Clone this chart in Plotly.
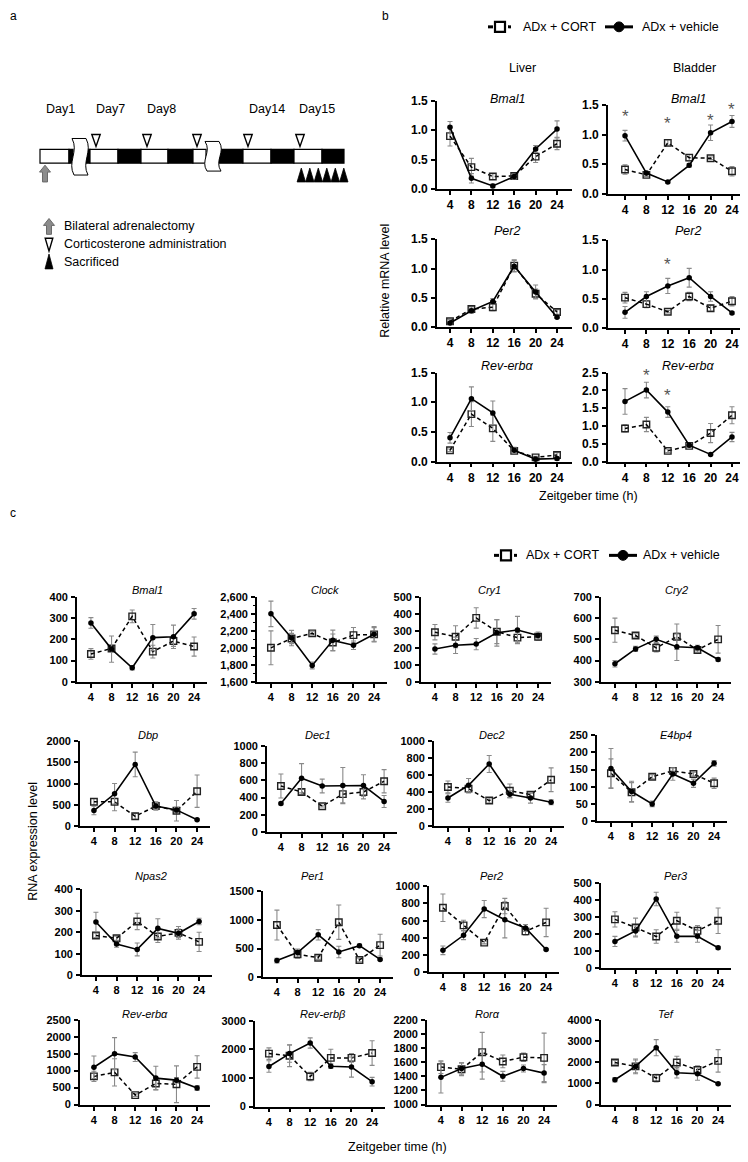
import plotly.graph_objects as go

W, H = 748, 1162          # page / reference size in px
OX, OY = 8, 8             # default page margin of the browser body
FW, FH = W - OX, H - OY   # figure size so that it fills the window exactly
FONT = "Liberation Sans, Arial, Helvetica, sans-serif"
zt = [4, 8, 12, 16, 20, 24]

# ---------------- Panel b: relative mRNA level ----------------
b_liver_bmal1_veh = [1.05, 0.18, 0.05, 0.21, 0.68, 1.02]
b_liver_bmal1_veh_sem = [0.10, 0.08, 0.03, 0.04, 0.06, 0.14]
b_liver_bmal1_cort = [0.90, 0.37, 0.21, 0.22, 0.55, 0.77]
b_liver_bmal1_cort_sem = [0.17, 0.15, 0.05, 0.04, 0.10, 0.10]

b_bladder_bmal1_veh = [0.98, 0.35, 0.20, 0.48, 1.03, 1.22]
b_bladder_bmal1_veh_sem = [0.09, 0.03, 0.02, 0.03, 0.13, 0.10]
b_bladder_bmal1_cort = [0.41, 0.32, 0.86, 0.61, 0.60, 0.38]
b_bladder_bmal1_cort_sem = [0.08, 0.03, 0.05, 0.05, 0.02, 0.08]
b_bladder_bmal1_star_zt = [4, 12, 20, 24]
b_bladder_bmal1_star_y = [1.35, 1.23, 1.28, 1.48]

b_liver_per2_veh = [0.07, 0.28, 0.44, 1.04, 0.60, 0.17]
b_liver_per2_veh_sem = [0.02, 0.04, 0.05, 0.10, 0.12, 0.02]
b_liver_per2_cort = [0.10, 0.31, 0.34, 1.05, 0.57, 0.26]
b_liver_per2_cort_sem = [0.03, 0.04, 0.06, 0.10, 0.08, 0.04]

b_bladder_per2_veh = [0.27, 0.54, 0.72, 0.86, 0.54, 0.26]
b_bladder_per2_veh_sem = [0.10, 0.08, 0.13, 0.16, 0.08, 0.02]
b_bladder_per2_cort = [0.52, 0.41, 0.28, 0.54, 0.34, 0.46]
b_bladder_per2_cort_sem = [0.09, 0.06, 0.02, 0.07, 0.05, 0.08]
b_bladder_per2_star_zt = [12]
b_bladder_per2_star_y = [1.14]

b_liver_reva_veh = [0.40, 1.06, 0.82, 0.19, 0.04, 0.05]
b_liver_reva_veh_sem = [0.09, 0.20, 0.20, 0.05, 0.03, 0.03]
b_liver_reva_cort = [0.19, 0.80, 0.56, 0.18, 0.07, 0.11]
b_liver_reva_cort_sem = [0.02, 0.21, 0.22, 0.04, 0.02, 0.04]

b_bladder_reva_veh = [1.69, 2.01, 1.39, 0.46, 0.20, 0.69]
b_bladder_reva_veh_sem = [0.36, 0.22, 0.15, 0.04, 0.02, 0.13]
b_bladder_reva_cort = [0.93, 1.04, 0.30, 0.44, 0.80, 1.30]
b_bladder_reva_cort_sem = [0.10, 0.20, 0.05, 0.04, 0.27, 0.24]
b_bladder_reva_star_zt = [8, 12]
b_bladder_reva_star_y = [2.50, 1.94]

# ---------------- Panel c: RNA expression level ----------------
c_bmal1_veh = [277, 154, 66, 208, 212, 320]
c_bmal1_veh_sem = [25, 62, 10, 62, 55, 25]
c_bmal1_cort = [131, 157, 308, 142, 192, 166]
c_bmal1_cort_sem = [25, 10, 30, 30, 25, 45]

c_clock_veh = [2400, 2115, 1792, 2088, 2031, 2160]
c_clock_veh_sem = [150, 90, 40, 120, 50, 90]
c_clock_cort = [2000, 2110, 2170, 2062, 2150, 2158]
c_clock_cort_sem = [200, 60, 20, 100, 90, 80]

c_cry1_veh = [193, 215, 222, 288, 305, 273]
c_cry1_veh_sem = [30, 48, 33, 78, 80, 20]
c_cry1_cort = [292, 265, 376, 295, 260, 265]
c_cry1_cort_sem = [45, 65, 60, 70, 30, 20]

c_cry2_veh = [385, 455, 500, 465, 460, 405]
c_cry2_veh_sem = [15, 12, 15, 65, 12, 8]
c_cry2_cort = [543, 518, 460, 512, 450, 500]
c_cry2_cort_sem = [57, 8, 20, 60, 10, 65]

c_dbp_veh = [365, 760, 1450, 470, 380, 150]
c_dbp_veh_sem = [100, 240, 290, 80, 60, 20]
c_dbp_cort = [570, 570, 230, 470, 360, 820]
c_dbp_cort_sem = [80, 210, 70, 100, 240, 380]

c_dec1_veh = [330, 625, 535, 540, 540, 355]
c_dec1_veh_sem = [15, 170, 80, 210, 125, 70]
c_dec1_cort = [535, 465, 300, 440, 465, 590]
c_dec1_cort_sem = [140, 30, 10, 100, 80, 135]

c_dec2_veh = [330, 480, 730, 375, 330, 280]
c_dec2_veh_sem = [50, 80, 100, 40, 60, 30]
c_dec2_cort = [460, 440, 300, 415, 370, 545]
c_dec2_cort_sem = [70, 50, 30, 80, 20, 140]

c_e4bp4_veh = [153, 86, 50, 137, 110, 168]
c_e4bp4_veh_sem = [58, 30, 8, 18, 12, 8]
c_e4bp4_cort = [139, 84, 129, 146, 137, 110]
c_e4bp4_cort_sem = [42, 28, 6, 10, 5, 15]

c_npas2_veh = [248, 145, 120, 218, 195, 250]
c_npas2_veh_sem = [45, 15, 30, 45, 20, 15]
c_npas2_cort = [185, 172, 250, 180, 197, 155]
c_npas2_cort_sem = [10, 10, 38, 28, 30, 45]

c_per1_veh = [290, 430, 740, 440, 550, 310]
c_per1_veh_sem = [40, 60, 90, 100, 30, 20]
c_per1_cort = [910, 400, 340, 960, 300, 560]
c_per1_cort_sem = [260, 70, 30, 300, 30, 190]

c_per2_veh = [255, 430, 735, 610, 515, 265]
c_per2_veh_sem = [50, 50, 100, 210, 40, 10]
c_per2_cort = [750, 545, 345, 770, 475, 580]
c_per2_cort_sem = [160, 60, 15, 90, 40, 165]

c_per3_veh = [158, 220, 408, 188, 188, 121]
c_per3_veh_sem = [30, 30, 40, 35, 35, 8]
c_per3_cort = [288, 240, 187, 280, 221, 280]
c_per3_cort_sem = [45, 55, 40, 50, 30, 75]

c_reva_veh = [1100, 1500, 1400, 780, 720, 490]
c_reva_veh_sem = [330, 470, 130, 350, 80, 70]
c_reva_cort = [830, 950, 280, 620, 600, 1110]
c_reva_cort_sem = [150, 400, 40, 180, 540, 330]

c_revb_veh = [1400, 1850, 2220, 1410, 1380, 870]
c_revb_veh_sem = [200, 300, 180, 80, 350, 150]
c_revb_cort = [1850, 1775, 1050, 1700, 1700, 1870]
c_revb_cort_sem = [200, 380, 150, 300, 150, 430]

c_rora_veh = [1385, 1510, 1570, 1400, 1510, 1445]
c_rora_veh_sem = [220, 80, 210, 70, 50, 120]
c_rora_cort = [1530, 1500, 1740, 1610, 1670, 1660]
c_rora_cort_sem = [90, 90, 280, 90, 60, 350]

c_tef_veh = [1170, 1800, 2680, 1500, 1450, 980]
c_tef_veh_sem = [100, 350, 380, 250, 300, 40]
c_tef_cort = [1980, 1800, 1250, 1980, 1630, 2060]
c_tef_cort_sem = [100, 300, 180, 300, 200, 530]


def X(px):
    return (px - OX) / FW


def Y(py):
    return 1 - (py - OY) / FH


def P(x, y):
    return f"{X(x):.5f},{Y(y):.5f}"


b_specs = [
    ("Bmal1", b_liver_bmal1_veh, b_liver_bmal1_veh_sem, b_liver_bmal1_cort, b_liver_bmal1_cort_sem,
     [0, 1.5], 0.5, ".1f", 437, 95, 184, 135, [1.57, 26.8], 507, 93, None),
    ("Bmal1", b_bladder_bmal1_veh, b_bladder_bmal1_veh_sem, b_bladder_bmal1_cort, b_bladder_bmal1_cort_sem,
     [0, 1.5], 0.5, ".1f", 608, 99, 189, 135, [0.82, 26.06], 688, 93,
     (b_bladder_bmal1_star_zt, b_bladder_bmal1_star_y)),
    ("Per2", b_liver_per2_veh, b_liver_per2_veh_sem, b_liver_per2_cort, b_liver_per2_cort_sem,
     [0, 1.5], 0.5, ".1f", 437, 235, 324, 135, [1.57, 26.8], 507, 227, None),
    ("Per2", b_bladder_per2_veh, b_bladder_per2_veh_sem, b_bladder_per2_cort, b_bladder_per2_cort_sem,
     [0, 1.5], 0.5, ".1f", 608, 236, 325, 135, [0.82, 26.06], 688, 227,
     (b_bladder_per2_star_zt, b_bladder_per2_star_y)),
    ("Rev-erbα", b_liver_reva_veh, b_liver_reva_veh_sem, b_liver_reva_cort, b_liver_reva_cort_sem,
     [0, 1.5], 0.5, ".1f", 437, 370, 460, 135, [1.57, 26.8], 507, 363, None),
    ("Rev-erbα", b_bladder_reva_veh, b_bladder_reva_veh_sem, b_bladder_reva_cort, b_bladder_reva_cort_sem,
     [0, 2.5], 0.5, ".1f", 608, 370, 460, 135, [0.82, 26.06], 688, 363,
     (b_bladder_reva_star_zt, b_bladder_reva_star_y)),
]

CXR = [1.3, 26.5]
c_specs = [
    ("Bmal1", c_bmal1_veh, c_bmal1_veh_sem, c_bmal1_cort, c_bmal1_cort_sem, [0, 400], 100, "d", 77, 597, 683, 147, 590),
    ("Clock", c_clock_veh, c_clock_veh_sem, c_clock_cort, c_clock_cort_sem, [1600, 2600], 200, ",d", 257, 597, 683, 325, 590),
    ("Cry1", c_cry1_veh, c_cry1_veh_sem, c_cry1_cort, c_cry1_cort_sem, [0, 500], 100, "d", 421, 597, 683, 489, 590),
    ("Cry2", c_cry2_veh, c_cry2_veh_sem, c_cry2_cort, c_cry2_cort_sem, [300, 700], 100, "d", 601, 597, 683, 676, 590),
    ("Dbp", c_dbp_veh, c_dbp_veh_sem, c_dbp_cort, c_dbp_cort_sem, [0, 2000], 500, "d", 80, 743, 829, 148, 737),
    ("Dec1", c_dec1_veh, c_dec1_veh_sem, c_dec1_cort, c_dec1_cort_sem, [0, 1000], 200, "d", 267, 748, 835, 318, 737),
    ("Dec2", c_dec2_veh, c_dec2_veh_sem, c_dec2_cort, c_dec2_cort_sem, [0, 1000], 200, "d", 434, 743, 829, 492, 737),
    ("E4bp4", c_e4bp4_veh, c_e4bp4_veh_sem, c_e4bp4_cort, c_e4bp4_cort_sem, [0, 250], 50, "d", 597, 737, 824, 676, 737),
    ("Npas2", c_npas2_veh, c_npas2_veh_sem, c_npas2_cort, c_npas2_cort_sem, [0, 400], 100, "d", 82, 893, 980, 151, 880),
    ("Per1", c_per1_veh, c_per1_veh_sem, c_per1_cort, c_per1_cort_sem, [0, 1500], 500, "d", 263, 895, 982, 312, 880),
    ("Per2", c_per2_veh, c_per2_veh_sem, c_per2_cort, c_per2_cort_sem, [0, 1000], 200, "d", 429, 890, 977, 491, 880),
    ("Per3", c_per3_veh, c_per3_veh_sem, c_per3_cort, c_per3_cort_sem, [0, 500], 100, "d", 601, 887, 973, 676, 880),
    ("Rev-erbα", c_reva_veh, c_reva_veh_sem, c_reva_cort, c_reva_cort_sem, [0, 2500], 500, "d", 80, 1025, 1111, 145, 1019),
    ("Rev-erbβ", c_revb_veh, c_revb_veh_sem, c_revb_cort, c_revb_cort_sem, [0, 3000], 1000, "d", 255, 1026, 1113, 323, 1019),
    ("Rorα", c_rora_veh, c_rora_veh_sem, c_rora_cort, c_rora_cort_sem, [1000, 2200], 200, "d", 427, 1025, 1111, 487, 1019),
    ("Tef", c_tef_veh, c_tef_veh_sem, c_tef_cort, c_tef_cort_sem, [0, 4000], 1000, "d", 601, 1025, 1111, 666, 1019),
]

fig = go.Figure()
layout = {}
annotations = []
shapes = []

ERR_COLOR = "#8a8a8a"


def add_panel(idx, title, veh, vsem, cort, csem, yr, dtick, fmt, x0, ytop, ybot, width, xr,
              tx, ty, tick_size, title_size, minor=None):
    xa = "x" if idx == 1 else f"x{idx}"
    ya = "y" if idx == 1 else f"y{idx}"
    tickfont = dict(family=FONT, size=tick_size, color="black", weight="bold")
    common = dict(showline=True, linecolor="black", linewidth=1.8, ticks="outside", ticklen=4,
                  tickwidth=1.6, tickcolor="black", showgrid=False, zeroline=False,
                  tickfont=tickfont, fixedrange=True)
    layout["xaxis" if idx == 1 else f"xaxis{idx}"] = dict(
        domain=[X(x0), X(x0 + width)], range=xr, anchor=ya, tickmode="array", tickvals=zt,
        ticktext=[str(v) for v in zt], **common)
    yax = dict(domain=[Y(ybot), Y(ytop)], range=yr, anchor=xa, tick0=yr[0], dtick=dtick,
               tickformat=fmt, ticklabelstandoff=1, **common)
    if minor:
        yax["minor"] = dict(ticks="outside", dtick=minor, ticklen=2.5, tickwidth=1.2, tickcolor="black")
    layout["yaxis" if idx == 1 else f"yaxis{idx}"] = yax
    fig.add_trace(go.Scatter(
        x=zt, y=cort, xaxis=xa, yaxis=ya, mode="lines+markers", cliponaxis=False,
        line=dict(color="black", width=1.5, dash="4px,3px"),
        marker=dict(symbol="square-open", size=6.5, color="#222", line=dict(width=1.4, color="#222")),
        error_y=dict(type="data", array=csem, color=ERR_COLOR, thickness=1.1, width=2.5),
        hoverinfo="skip"))
    fig.add_trace(go.Scatter(
        x=zt, y=veh, xaxis=xa, yaxis=ya, mode="lines+markers", cliponaxis=False,
        line=dict(color="black", width=1.6),
        marker=dict(symbol="circle", size=5.5, color="black"),
        error_y=dict(type="data", array=vsem, color=ERR_COLOR, thickness=1.1, width=2.5),
        hoverinfo="skip"))
    annotations.append(dict(x=X(tx), y=Y(ty), xref="paper", yref="paper", text=f"<i>{title}</i>",
                            showarrow=False, xanchor="center", yanchor="middle",
                            font=dict(family=FONT, size=title_size, color="black")))


idx = 1
for s in b_specs:
    (title, veh, vsem, cort, csem, yr, dt, fmt, x0, yt, yb, w, xr, tx, ty, stars) = s
    add_panel(idx, title, veh, vsem, cort, csem, yr, dt, fmt, x0, yt, yb, w, xr, tx, ty, 12, 12.5)
    if stars:
        xa = "x" if idx == 1 else f"x{idx}"
        ya = "y" if idx == 1 else f"y{idx}"
        for sx, sy in zip(*stars):
            annotations.append(dict(x=sx, y=sy, xref=xa, yref=ya, text="*", showarrow=False,
                                    yshift=-3, font=dict(family=FONT, size=17, color="#555")))
    idx += 1

for s in c_specs:
    (title, veh, vsem, cort, csem, yr, dt, fmt, x0, yt, yb, tx, ty) = s
    add_panel(idx, title, veh, vsem, cort, csem, yr, dt, fmt, x0, yt, yb, 130, CXR, tx, ty, 11, 11,
              minor=100 if title == "Clock" else None)
    idx += 1


def text(x, y, s, size=12, anchor="left", color="black", angle=0):
    annotations.append(dict(x=X(x), y=Y(y), xref="paper", yref="paper", text=s, showarrow=False,
                            xanchor=anchor, yanchor="middle", textangle=angle,
                            font=dict(family=FONT, size=size, color=color)))


# panel letters
text(8, 9, "a", 12)
text(380, 9, "b", 12)
text(8, 512, "c", 12)

# axis titles and column labels
text(522, 62, "Liver", 12.5, "center")
text(694, 62, "Bladder", 12.5, "center")
text(385, 277, "Relative mRNA level", 12.5, "center", angle=-90)
text(588, 495, "Zeitgeber time (h)", 12.5, "center")
text(33, 845, "RNA expression level", 12.5, "center", angle=-90)
text(398, 1154, "Zeitgeber time (h)", 12.5, "center")


def legend(y, xd0, xt1, xv0, xt2):
    shapes.append(dict(type="line", xref="paper", yref="paper", x0=X(xd0), x1=X(xd0 + 5), y0=Y(y), y1=Y(y),
                       line=dict(color="black", width=3)))
    shapes.append(dict(type="rect", xref="paper", yref="paper", x0=X(xd0 + 7), x1=X(xd0 + 17),
                       y0=Y(y + 5), y1=Y(y - 5), line=dict(color="black", width=2.2), fillcolor="white"))
    shapes.append(dict(type="line", xref="paper", yref="paper", x0=X(xd0 + 20), x1=X(xd0 + 23), y0=Y(y), y1=Y(y),
                       line=dict(color="black", width=3)))
    text(xt1, y, "ADx + CORT", 12.5)
    shapes.append(dict(type="line", xref="paper", yref="paper", x0=X(xv0), x1=X(xv0 + 28), y0=Y(y), y1=Y(y),
                       line=dict(color="black", width=3)))
    shapes.append(dict(type="circle", xref="paper", yref="paper", x0=X(xv0 + 9), x1=X(xv0 + 19),
                       y0=Y(y + 5), y1=Y(y - 5), line=dict(color="black", width=1), fillcolor="black"))
    text(xt2, y, "ADx + vehicle", 12.5)


legend(20, 488, 521, 605, 640)
legend(555, 494, 524, 609, 641)

# ---------------- Panel a: experimental schedule ----------------
day_labels = ["Day1", "Day7", "Day8", "Day14", "Day15"]
day_label_x = [60, 110, 161, 267, 317]
for lbl, lx in zip(day_labels, day_label_x):
    text(lx, 103, lbl, 12.5, "center")

BAR_T, BAR_B = 144, 158
bar_segments = [(40, 69, "white"), (69, 73, "black"), (86, 90, "black"), (90, 118, "white"),
                (118, 141, "black"), (141, 168, "white"), (168, 193, "black"), (193, 206, "white"),
                (219, 243, "black"), (243, 271, "white"), (271, 294, "black"), (294, 322, "white"),
                (322, 344, "black")]
for a0, a1, col in bar_segments:
    shapes.append(dict(type="rect", xref="paper", yref="paper", x0=X(a0), x1=X(a1), y0=Y(BAR_B), y1=Y(BAR_T),
                       fillcolor=col, line=dict(color="black", width=1.2)))


def break_path(xl, yt, yb, w=14):
    h = yb - yt
    xr = xl + w
    return ("M" + P(xl, yt) + " L" + P(xr, yt) +
            " C" + P(xr + 7, yt + 0.35 * h) + " " + P(xr - 5, yt + 0.65 * h) + " " + P(xr + 2, yb) +
            " L" + P(xl + 2, yb) +
            " C" + P(xl - 5, yt + 0.65 * h) + " " + P(xl + 7, yt + 0.35 * h) + " " + P(xl, yt) + " Z")


for bx, bt, bb in [(72, 133, 170), (205, 136, 166)]:
    shapes.append(dict(type="path", xref="paper", yref="paper", path=break_path(bx, bt, bb),
                       fillcolor="white", line=dict(color="black", width=1)))


def tri_down(cx, top, tip, hw=4.2, fill="white"):
    shapes.append(dict(type="path", xref="paper", yref="paper",
                       path="M" + P(cx - hw, top) + " L" + P(cx + hw, top) + " L" + P(cx, tip) + " Z",
                       fillcolor=fill, line=dict(color="black", width=1.4)))


def tri_up(cx, tip, base, hw=4.2):
    shapes.append(dict(type="path", xref="paper", yref="paper",
                       path="M" + P(cx - hw, base) + " L" + P(cx + hw, base) + " L" + P(cx, tip) + " Z",
                       fillcolor="black", line=dict(color="black", width=0.8)))


def up_arrow(cx, tip, bottom):
    hb = tip + 7
    pts = [(cx, tip), (cx + 5.5, hb), (cx + 2.5, hb), (cx + 2.5, bottom), (cx - 2.5, bottom),
           (cx - 2.5, hb), (cx - 5.5, hb)]
    path = "M" + " L".join(P(px_, py_) for px_, py_ in pts) + " Z"
    shapes.append(dict(type="path", xref="paper", yref="paper", path=path,
                       fillcolor="#8c8c8c", line=dict(color="#6a6a6a", width=1)))


cort_admin_x = [96, 147, 197, 248, 300]
for cx in cort_admin_x:
    tri_down(cx, 129, 141)
sacrifice_x = [301.3, 309.8, 318.3, 326.8, 335.3, 343.8]
for cx in sacrifice_x:
    tri_up(cx, 163, 177)
up_arrow(45, 160, 177)

up_arrow(49, 214, 230)
text(62, 222, "Bilateral adrenalectomy", 12.5)
tri_down(49, 234, 247, hw=3.8)
text(62, 240, "Corticosterone administration", 12.5)
tri_up(49, 250, 265, hw=4)
text(62, 258, "Sacrificed", 12.5)

fig.update_layout(**layout)
fig.update_layout(width=FW, height=FH, margin=dict(l=0, r=0, t=0, b=0), showlegend=False,
                  paper_bgcolor="white", plot_bgcolor="rgba(0,0,0,0)",
                  annotations=annotations, shapes=shapes, font=dict(family=FONT, color="black"))
fig.write_html("out.html")
